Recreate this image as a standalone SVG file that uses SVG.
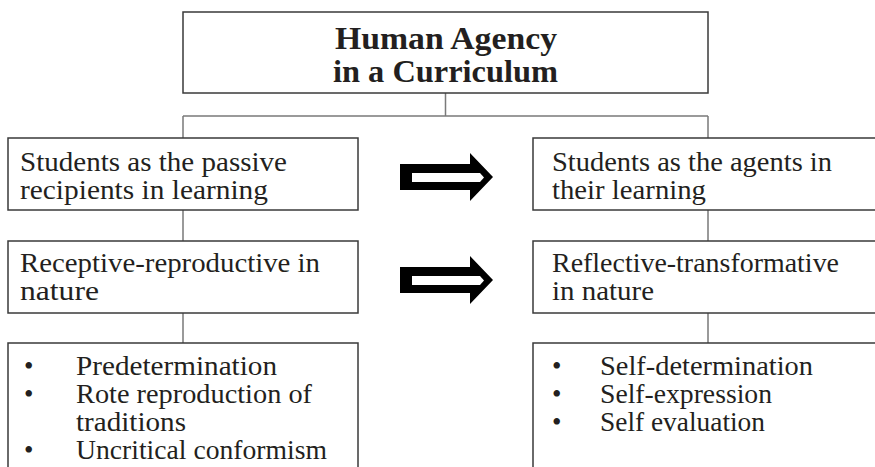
<svg xmlns="http://www.w3.org/2000/svg" width="875" height="467" viewBox="0 0 875 467">
<style>
.box{fill:#fff;stroke:#3a3a3a;stroke-width:1.5}
.conn{fill:none;stroke:#7a7a7a;stroke-width:1.5}
.t{font-family:"Liberation Serif","DejaVu Serif",serif;font-size:27px;fill:#231f20}
.title{font-family:"Liberation Serif","DejaVu Serif",serif;font-size:31px;font-weight:bold;fill:#231f20}
.arrow{fill:#000}
.slot{fill:#fff}
</style>
<rect width="875" height="467" fill="#fff"/>
<g id="connectors">
<path class="conn" d="M445.5 93 V116 M183 116 H708 M183 116 V138 M708 116 V138 M183 210 V241 M708 210 V241 M183 313 V343 M708 313 V343"/>
</g>
<g id="title">
<rect class="box" x="183" y="12" width="525" height="81"/>
<text class="title" x="335" y="49" textLength="222" lengthAdjust="spacingAndGlyphs">Human Agency</text>
<text class="title" x="333" y="82" textLength="225" lengthAdjust="spacingAndGlyphs">in a Curriculum</text>
</g>
<g id="passive">
<rect class="box" x="8" y="138" width="350" height="72"/>
<text class="t" x="20" y="171" textLength="267" lengthAdjust="spacingAndGlyphs">Students as the passive</text>
<text class="t" x="20" y="199" textLength="248" lengthAdjust="spacingAndGlyphs">recipients in learning</text>
</g>
<g id="agents">
<rect class="box" x="533" y="138" width="360" height="72"/>
<text class="t" x="552" y="171" textLength="280" lengthAdjust="spacingAndGlyphs">Students as the agents in</text>
<text class="t" x="552" y="199" textLength="154" lengthAdjust="spacingAndGlyphs">their learning</text>
</g>
<g id="receptive">
<rect class="box" x="8" y="241" width="350" height="72"/>
<text class="t" x="20" y="272" textLength="300" lengthAdjust="spacingAndGlyphs">Receptive-reproductive in</text>
<text class="t" x="20" y="300" textLength="79" lengthAdjust="spacingAndGlyphs">nature</text>
</g>
<g id="reflective">
<rect class="box" x="533" y="241" width="360" height="72"/>
<text class="t" x="552" y="272" textLength="287" lengthAdjust="spacingAndGlyphs">Reflective-transformative</text>
<text class="t" x="552" y="300" textLength="102" lengthAdjust="spacingAndGlyphs">in nature</text>
</g>
<g id="left-list">
<rect class="box" x="8" y="343" width="350" height="140"/>
<text class="t" x="24" y="375">•</text><text class="t" x="76" y="375" textLength="201" lengthAdjust="spacingAndGlyphs">Predetermination</text>
<text class="t" x="24" y="403">•</text><text class="t" x="76" y="403" textLength="236" lengthAdjust="spacingAndGlyphs">Rote reproduction of</text>
<text class="t" x="76" y="431" textLength="110" lengthAdjust="spacingAndGlyphs">traditions</text>
<text class="t" x="24" y="459">•</text><text class="t" x="76" y="459" textLength="251" lengthAdjust="spacingAndGlyphs">Uncritical conformism</text>
</g>
<g id="right-list">
<rect class="box" x="533" y="343" width="360" height="140"/>
<text class="t" x="552" y="375">•</text><text class="t" x="600" y="375" textLength="213" lengthAdjust="spacingAndGlyphs">Self-determination</text>
<text class="t" x="552" y="403">•</text><text class="t" x="600" y="403" textLength="172" lengthAdjust="spacingAndGlyphs">Self-expression</text>
<text class="t" x="552" y="431">•</text><text class="t" x="600" y="431" textLength="165" lengthAdjust="spacingAndGlyphs">Self evaluation</text>
</g>
<g id="arrow1">
<polygon class="arrow" points="400,164 470,164 470,153 493,177 470,201 470,190 400,190"/>
<polygon class="slot" points="412,173 480,173 484,177.5 480,182 412,182"/>
</g>
<g id="arrow2">
<polygon class="arrow" points="400,267 470,267 470,256 493,280 470,304 470,293 400,293"/>
<polygon class="slot" points="412,276 480,276 484,280.5 480,285 412,285"/>
</g>
</svg>
